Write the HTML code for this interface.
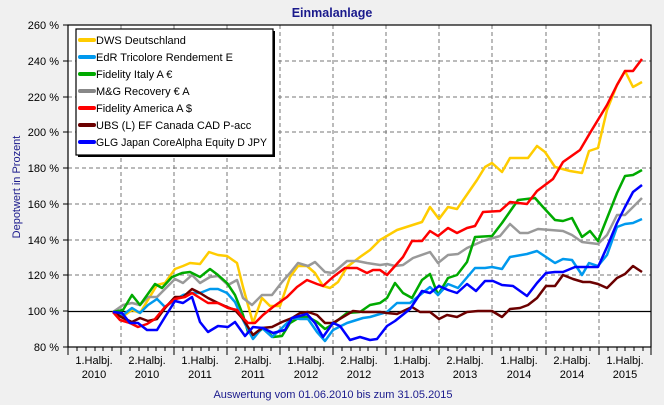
<!DOCTYPE html>
<html><head><meta charset="utf-8"><style>
html,body{margin:0;padding:0;background:#f0f0f0;}
svg{display:block;font-family:"Liberation Sans",sans-serif;}
</style></head><body>
<svg width="664" height="405" viewBox="0 0 664 405" xmlns="http://www.w3.org/2000/svg">
<rect width="664" height="405" fill="#f0f0f0"/>
<text x="332" y="17" text-anchor="middle" font-size="12.5" font-weight="bold" fill="#1a1a8c">Einmalanlage</text>
<rect x="68" y="25" width="583" height="322" fill="#fff"/>
<g stroke="#777" stroke-width="1" stroke-dasharray="4,3" fill="none">
<path d="M68 61H651M68 97H651M68 132H651M68 168H651M68 204H651M68 240H651M68 275H651"/>
<path d="M121 25V347M174 25V347M227 25V347M280 25V347M333 25V347M386 25V347M439 25V347M492 25V347M546 25V347M599 25V347"/>
</g>
<path d="M68 311.5H651" stroke="#000" stroke-width="1.3"/>
<g fill="none" stroke-width="2.5" stroke-linejoin="round">
<polyline stroke="#ffcc00" points="113,312 122,317 132,310 140,313 157,285 165,283 175,269 183,266 190,263 200,264 209,252 218,255 227,256 237,263 243,287 253,323 262,298 270,306 280,306 290,277 298,266 307,266 315,273 323,286 330,288 338,282 347,267 360,257 370,250 380,240 397,230 422,222 430,207 439,219 448,207 457,209 477,180 485,167 492,163 502,172 510,158 528,158 537,146 545,152 555,167 570,171 582,173 589,151 598,148 607,110 617,85 625,71 633,87 642,82"/>
<polyline stroke="#999" stroke-width="2.5" points="113,312 123,305 132,303 140,305 148,297 157,297 165,289 175,279 183,283 192,275 200,283 210,277 218,276 228,285 237,280 243,298 252,305 262,295 272,295 282,282 290,273 298,263 308,266 315,262 325,272 333,273 347,261 357,261 367,263 380,265 387,264 395,266 403,265 413,258 430,252 438,263 448,255 458,254 467,248 483,241 500,236 510,224 520,233 528,233 538,229 563,231 572,235 582,242 598,244 607,235 617,215 625,215 642,198"/>
<polyline stroke="#00aa00" points="113,312 123,310 132,295 140,305 155,284 162,288 172,277 182,273 190,272 200,277 210,269 218,275 227,283 235,295 243,315 248,332 255,335 263,328 273,337 282,336 290,323 300,317 308,317 317,322 325,329 333,324 347,313 360,312 370,305 380,303 387,298 395,283 403,293 412,298 422,280 430,274 438,295 448,278 457,275 467,262 475,237 492,236 502,223 518,200 535,198 543,207 555,220 563,221 572,218 582,237 590,231 598,241 617,193 625,176 633,175 642,170"/>
<polyline stroke="#0099ee" points="113,312 123,315 132,308 140,313 148,305 157,299 165,307 175,300 183,295 192,293 200,293 210,289 218,289 227,293 235,302 243,320 253,339 262,328 272,337 282,328 292,318 300,319 308,319 317,332 325,341 333,330 347,323 363,318 370,317 387,312 397,303 410,303 430,287 438,295 448,284 458,288 475,268 485,268 492,267 502,269 510,257 527,254 537,251 555,263 563,259 572,260 582,275 589,263 598,266 607,255 617,227 625,224 633,223 642,219"/>
<polyline stroke="#6b0000" points="113,312 123,318 132,322 140,318 148,321 157,319 165,308 175,297 183,297 192,289 200,293 208,298 218,303 227,307 235,310 243,319 253,335 262,328 272,327 282,322 292,318 300,313 308,312 317,315 325,323 333,323 343,317 353,311 363,312 380,312 387,313 397,314 412,307 420,312 430,312 439,319 447,315 457,317 467,312 478,311 492,311 502,317 510,309 520,308 528,305 537,298 546,286 555,286 563,275 573,279 583,282 590,282 598,284 607,288 617,278 625,274 633,266 642,272"/>
<polyline stroke="#ff0000" points="113,312 120,320 130,323 138,327 147,324 155,319 165,307 175,299 185,297 192,293 200,298 208,303 218,303 228,308 237,310 243,318 248,323 255,323 263,315 273,307 287,297 297,287 307,280 317,284 323,286 333,277 345,268 357,268 367,273 373,270 380,270 387,275 403,257 412,241 422,241 430,231 438,236 448,228 457,233 467,228 475,226 483,212 500,211 510,202 527,204 537,191 553,179 563,162 580,150 590,133 607,105 617,85 625,71 633,71 642,59"/>
<polyline stroke="#0000ff" points="113,312 122,313 130,323 138,323 147,330 157,330 165,317 175,301 183,303 192,297 200,322 208,332 218,326 228,327 235,322 245,336 253,327 263,328 273,333 285,330 292,318 307,314 315,323 323,337 333,323 340,326 350,340 360,337 370,340 377,339 387,326 395,321 410,309 422,291 430,293 439,286 448,290 457,293 467,284 476,291 485,281 493,281 502,285 513,286 527,296 537,283 546,273 555,272 563,272 575,267 598,267 607,247 617,223 625,207 633,192 642,185"/>
</g>
<rect x="68" y="25" width="583" height="322" fill="none" stroke="#000" stroke-width="1.2"/>
<g stroke="#000" stroke-width="1">
<path d="M63 25H68M63 61H68M63 97H68M63 132H68M63 168H68M63 204H68M63 240H68M63 275H68M63 311H68M63 347H68"/>
<path d="M68 347V355M121 347V355M174 347V355M227 347V355M280 347V355M333 347V355M386 347V355M439 347V355M492 347V355M546 347V355M599 347V355M651 347V355"/>
<path d="M77 347v4M86 347v4M95 347v4M103 347v4M112 347v4M130 347v4M139 347v4M148 347v4M156 347v4M165 347v4M183 347v4M192 347v4M201 347v4M209 347v4M218 347v4M236 347v4M245 347v4M254 347v4M262 347v4M271 347v4M289 347v4M298 347v4M307 347v4M315 347v4M324 347v4M342 347v4M351 347v4M360 347v4M368 347v4M377 347v4M395 347v4M404 347v4M413 347v4M421 347v4M430 347v4M448 347v4M457 347v4M466 347v4M474 347v4M483 347v4M501 347v4M510 347v4M519 347v4M528 347v4M537 347v4M555 347v4M564 347v4M573 347v4M581 347v4M590 347v4M608 347v4M617 347v4M625 347v4M634 347v4M643 347v4"/>
</g>
<g font-size="11" fill="#000" text-anchor="end">
<text x="59" y="29">260 %</text><text x="59" y="65">240 %</text><text x="59" y="101">220 %</text><text x="59" y="136">200 %</text><text x="59" y="172">180 %</text><text x="59" y="208">160 %</text><text x="59" y="244">140 %</text><text x="59" y="279">120 %</text><text x="59" y="315">100 %</text><text x="59" y="351">80 %</text>
</g>
<text transform="translate(20,187) rotate(-90)" text-anchor="middle" font-size="11" fill="#1a1a8c">Depotwert in Prozent</text>
<g font-size="11" fill="#000" text-anchor="middle">
<text x="94" y="364">1.Halbj.</text><text x="94" y="378">2010</text>
<text x="147" y="364">2.Halbj.</text><text x="147" y="378">2010</text>
<text x="200" y="364">1.Halbj.</text><text x="200" y="378">2011</text>
<text x="253" y="364">2.Halbj.</text><text x="253" y="378">2011</text>
<text x="306" y="364">1.Halbj.</text><text x="306" y="378">2012</text>
<text x="359" y="364">2.Halbj.</text><text x="359" y="378">2012</text>
<text x="412" y="364">1.Halbj.</text><text x="412" y="378">2013</text>
<text x="465" y="364">2.Halbj.</text><text x="465" y="378">2013</text>
<text x="519" y="364">1.Halbj.</text><text x="519" y="378">2014</text>
<text x="572" y="364">2.Halbj.</text><text x="572" y="378">2014</text>
<text x="625" y="364">1.Halbj.</text><text x="625" y="378">2015</text>
</g>
<text x="333" y="398" text-anchor="middle" font-size="11" fill="#1a1a8c">Auswertung vom 01.06.2010 bis zum 31.05.2015</text>
<rect x="78" y="31" width="197" height="126" fill="#000"/>
<rect x="76" y="29" width="197" height="126" fill="#fff" stroke="#000" stroke-width="1.2"/>
<g stroke-width="4" stroke-linecap="round">
<path d="M80 40H94" stroke="#ffcc00"/><path d="M80 57H94" stroke="#0099ee"/><path d="M80 74H94" stroke="#00aa00"/><path d="M80 91H94" stroke="#888"/><path d="M80 108H94" stroke="#ff0000"/><path d="M80 125H94" stroke="#6b0000"/><path d="M80 142H94" stroke="#0000ff"/>
</g>
<g font-size="11" fill="#000">
<text x="96" y="44">DWS Deutschland</text>
<text x="96" y="61">EdR Tricolore Rendement E</text>
<text x="96" y="78">Fidelity Italy A €</text>
<text x="96" y="95">M&amp;G Recovery € A</text>
<text x="96" y="112">Fidelity America A $</text>
<text x="96" y="129">UBS (L) EF Canada CAD P-acc</text>
<text x="96" y="146" textLength="171" lengthAdjust="spacingAndGlyphs">GLG Japan CoreAlpha Equity D JPY</text>
</g>
</svg>
</body></html>
